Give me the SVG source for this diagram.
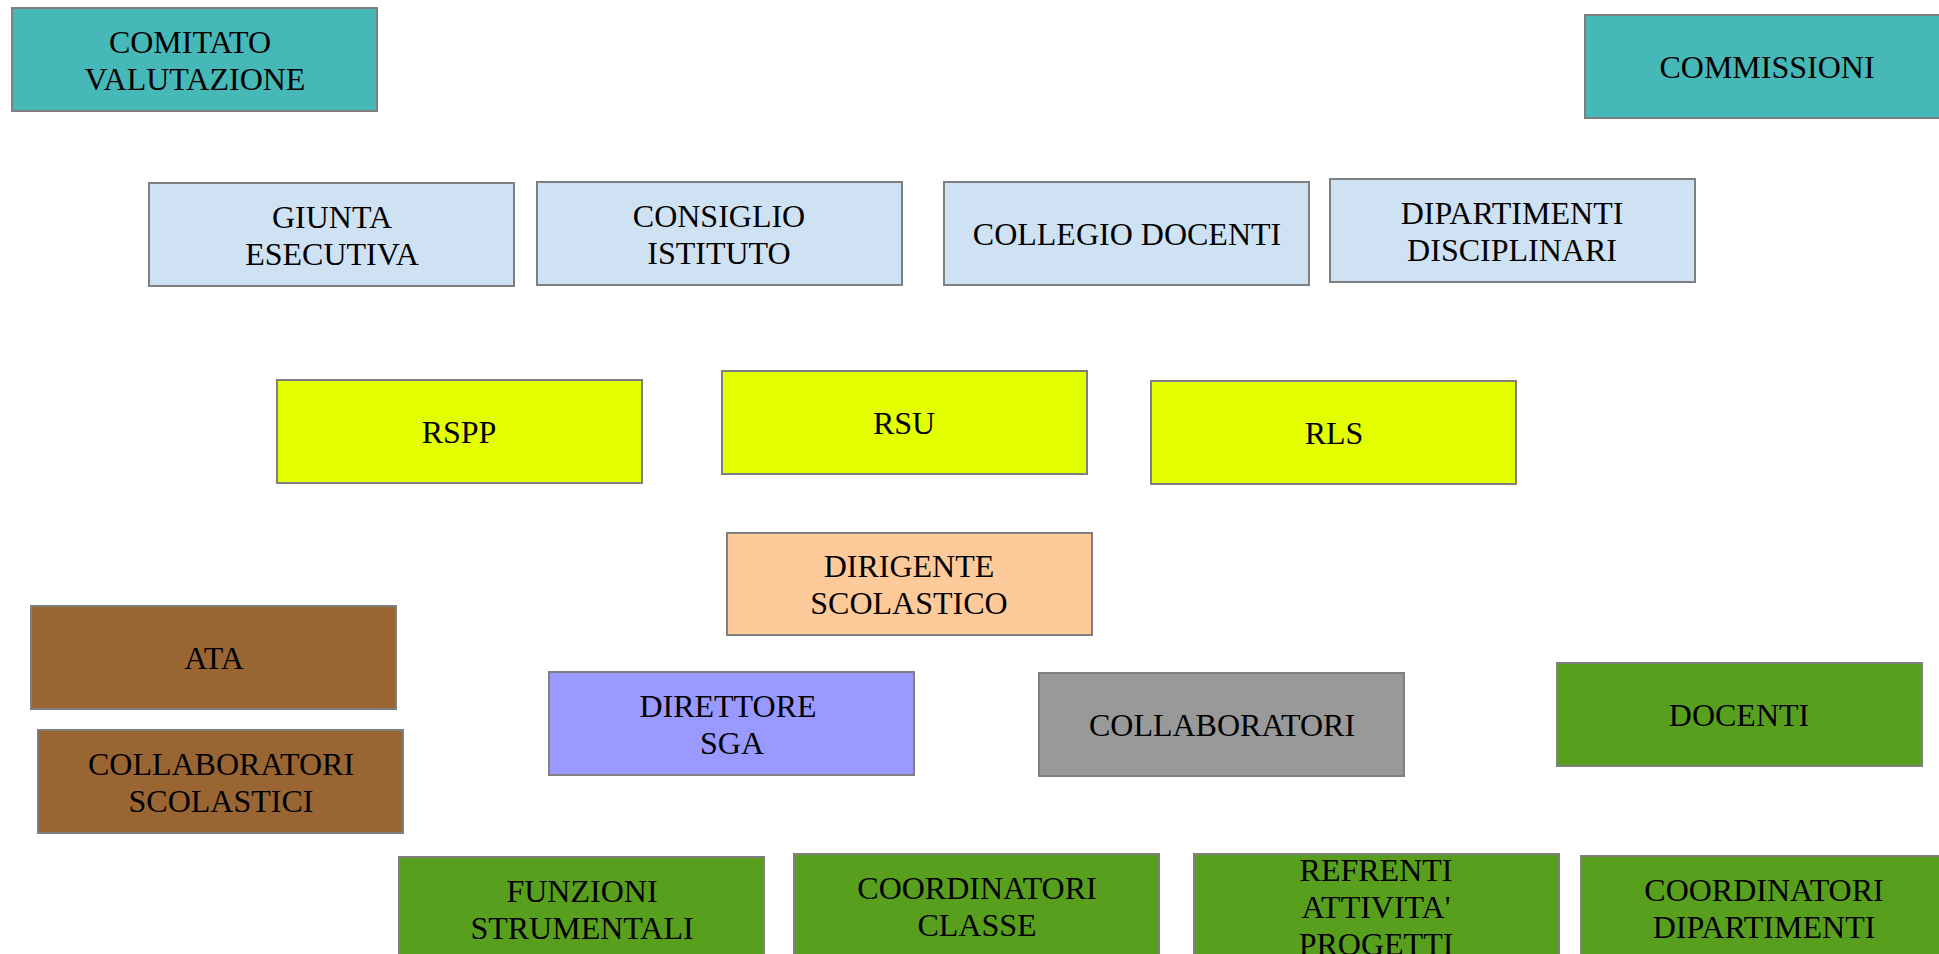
<svg xmlns="http://www.w3.org/2000/svg" width="1939" height="954" viewBox="0 0 1939 954">
<style>
g rect{stroke:#7f7f7f;stroke-width:2}
text{font-family:"Liberation Serif","Times New Roman",serif;font-size:32px;fill:#000;text-anchor:middle}
.teal{fill:#46b8b8}.blue{fill:#cfe2f3}.yel{fill:#e4ff00}.peach{fill:#ffca99}
.brown{fill:#996633}.lav{fill:#9999ff}.grey{fill:#999999}.green{fill:#589f1e}
</style>
<rect width="1939" height="954" style="fill:#fff;stroke:none"/>
<g id="connectors"/>
<g id="comitato"><rect class="teal" x="12" y="8" width="365" height="103"/><text x="190" y="52.5">COMITATO</text><text x="195" y="89.5">VALUTAZIONE</text></g>
<g id="commissioni"><rect class="teal" x="1585" y="15" width="365" height="103"/><text x="1767" y="77.5">COMMISSIONI</text></g>
<g id="giunta"><rect class="blue" x="149" y="183" width="365" height="103"/><text x="332" y="227.5">GIUNTA</text><text x="332" y="264.5">ESECUTIVA</text></g>
<g id="consiglio"><rect class="blue" x="537" y="182" width="365" height="103"/><text x="719" y="226.5">CONSIGLIO</text><text x="719" y="263.5">ISTITUTO</text></g>
<g id="collegio"><rect class="blue" x="944" y="182" width="365" height="103"/><text x="1127" y="244.5">COLLEGIO DOCENTI</text></g>
<g id="dipartimenti"><rect class="blue" x="1330" y="179" width="365" height="103"/><text x="1512" y="223.5">DIPARTIMENTI</text><text x="1512" y="260.5">DISCIPLINARI</text></g>
<g id="rspp"><rect class="yel" x="277" y="380" width="365" height="103"/><text x="459" y="442.5">RSPP</text></g>
<g id="rsu"><rect class="yel" x="722" y="371" width="365" height="103"/><text x="904" y="433.5">RSU</text></g>
<g id="rls"><rect class="yel" x="1151" y="381" width="365" height="103"/><text x="1334" y="443.5">RLS</text></g>
<g id="dirigente"><rect class="peach" x="727" y="533" width="365" height="102"/><text x="909" y="577">DIRIGENTE</text><text x="909" y="614">SCOLASTICO</text></g>
<g id="ata"><rect class="brown" x="31" y="606" width="365" height="103"/><text x="214" y="668.5">ATA</text></g>
<g id="collab-scol"><rect class="brown" x="38" y="730" width="365" height="103"/><text x="221" y="774.5">COLLABORATORI</text><text x="221" y="811.5">SCOLASTICI</text></g>
<g id="direttore"><rect class="lav" x="549" y="672" width="365" height="103"/><text x="728" y="716.5">DIRETTORE</text><text x="732" y="753.5">SGA</text></g>
<g id="collaboratori"><rect class="grey" x="1039" y="673" width="365" height="103"/><text x="1222" y="735.5">COLLABORATORI</text></g>
<g id="docenti"><rect class="green" x="1557" y="663" width="365" height="103"/><text x="1739" y="725.5">DOCENTI</text></g>
<g id="funzioni"><rect class="green" x="399" y="857" width="365" height="103"/><text x="582" y="901.5">FUNZIONI</text><text x="582" y="938.5">STRUMENTALI</text></g>
<g id="coord-classe"><rect class="green" x="794" y="854" width="365" height="103"/><text x="977" y="898.5">COORDINATORI</text><text x="977" y="935.5">CLASSE</text></g>
<g id="referenti"><rect class="green" x="1194" y="854" width="365" height="103"/><text x="1376" y="881">REFRENTI</text><text x="1376" y="918">ATTIVITA'</text><text x="1376" y="955">PROGETTI</text></g>
<g id="coord-dip"><rect class="green" x="1581" y="856" width="365" height="103"/><text x="1764" y="900.5">COORDINATORI</text><text x="1764" y="937.5">DIPARTIMENTI</text></g>
</svg>
